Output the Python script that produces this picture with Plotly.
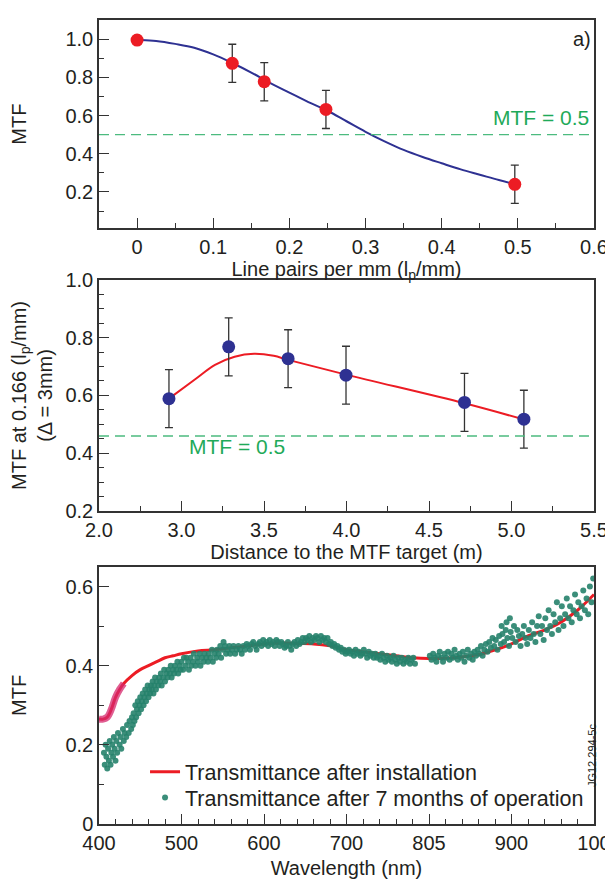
import plotly.graph_objects as go
from plotly.subplots import make_subplots

# ---- panel a) MTF against spatial frequency
lp_pts = [0.0, 0.125, 0.167, 0.248, 0.496]
lp_mtf = [0.995, 0.873, 0.777, 0.632, 0.24]
lp_err = [0.0, 0.1, 0.1, 0.1, 0.1]
lp_fit = [0.005, 0.025, 0.05, 0.075, 0.1, 0.125, 0.15, 0.175, 0.2, 0.225, 0.25, 0.275, 0.3, 0.325,
          0.35, 0.375, 0.4, 0.425, 0.45, 0.475, 0.495]
lp_fit_mtf = [0.995, 0.99, 0.975, 0.955, 0.92, 0.875, 0.825, 0.77, 0.72, 0.67, 0.625, 0.57, 0.515,
              0.465, 0.42, 0.383, 0.35, 0.318, 0.29, 0.262, 0.242]
lp_threshold = 0.5

# ---- MTF at 0.166 lp/mm against distance
dist_pts = [2.924, 3.286, 3.646, 3.997, 4.715, 5.075]
dist_mtf = [0.589, 0.768, 0.727, 0.670, 0.576, 0.518]
dist_err = [0.1, 0.1, 0.1, 0.1, 0.1, 0.1]
dist_fit = [2.924, 3.085, 3.203, 3.322, 3.44, 3.559, 3.646, 3.997, 4.715, 5.075]
dist_fit_mtf = [0.589, 0.657, 0.706, 0.734, 0.744, 0.737, 0.723, 0.672, 0.573, 0.517]
dist_threshold = 0.46
dist_ticks = [2.5, 3.0, 3.5, 4.0, 4.5, 5.0, 5.5]
dist_ticktext = ["2.0", "3.0", "3.5", "4.0", "4.5", "5.0", "5.5"]

# ---- transmittance after installation (line)
wl_install = [400, 405, 410, 415, 420, 425, 430, 440, 450, 460, 470, 480, 490, 500, 520, 540, 560, 580,
              600, 620, 640, 660, 680, 700, 720, 740, 760, 780, 800, 820, 840, 860, 880, 900, 920, 940,
              960, 980, 1000]
tr_install = [0.265, 0.265, 0.27, 0.29, 0.32, 0.34, 0.355, 0.375, 0.39, 0.40, 0.41, 0.42, 0.425, 0.43,
              0.437, 0.44, 0.445, 0.45, 0.455, 0.457, 0.456, 0.455, 0.45, 0.44, 0.435, 0.43, 0.425, 0.42,
              0.418, 0.419, 0.422, 0.428, 0.44, 0.455, 0.475, 0.49, 0.51, 0.54, 0.58]

# ---- transmittance after 7 months (dots)
wl_7m = [
    406, 407, 408, 409, 410, 411, 412, 413, 414, 415,
    416, 417, 418, 419, 420, 421, 422, 423, 425, 426,
    427, 429, 430, 431, 433, 434, 436, 437, 439, 440,
    441, 442, 443, 444, 445, 446, 447, 448, 449, 450,
    451, 452, 453, 454, 455, 456, 457, 458, 459, 460,
    461, 462, 463, 464, 465, 466, 467, 468, 469, 470,
    472, 473, 474, 475, 476, 478, 479, 480, 482, 483,
    484, 486, 487, 488, 490, 491, 492, 494, 495, 496,
    498, 499,
    500, 502, 503, 505, 506, 508, 509, 511, 512, 514,
    515, 517, 519, 520, 522, 523, 525, 527, 528, 530,
    532, 533, 535, 537, 538, 540, 542, 543, 545, 547,
    548, 550, 551, 553, 554, 556, 558, 559,
    561, 563, 565, 567, 569, 571, 573, 575, 577, 579,
    581, 583, 585, 587, 589, 591, 593, 595, 597, 599,
    601, 603, 605, 607, 609, 611, 613, 615, 617, 619,
    621, 623, 625, 627, 629, 631, 633, 635, 637, 639,
    641, 643, 645, 647, 649, 651, 653, 655, 657, 659,
    661, 663, 665, 667, 669, 671, 673, 675, 677, 679,
    681, 683, 685, 687, 689, 691, 693, 695, 697, 699,
    701, 703, 705, 707, 709, 711, 713, 715, 717, 719,
    721, 723, 725, 727, 729, 731, 733, 735, 737, 739,
    741, 743, 745, 747, 749, 751, 753, 755, 757, 759,
    761, 763, 765, 767, 769, 771, 773, 775, 777, 779,
    781, 783,
    801, 803, 805, 807, 809, 811, 813, 815, 817, 819,
    821, 823, 825, 827, 829, 831, 833, 835, 837, 839,
    841, 843, 845, 847, 849, 851, 853, 855, 857, 859,
    861, 863, 865, 867, 869, 871, 873, 875, 877, 879,
    881, 883, 885, 887, 889, 891, 893, 895, 897, 899,
    888, 894, 898,
    901, 903, 905, 907, 909, 911, 913, 915, 917, 919,
    921, 923, 925, 927, 929, 931, 933, 935, 937, 939,
    941, 943, 945, 947, 949, 951, 953, 955, 957, 959,
    961, 963, 965, 967, 969, 971, 973, 975, 977, 979,
    981, 983, 985, 987, 989, 991, 993, 995, 997, 999,
]
tr_7m = [
    0.18, 0.15, 0.20, 0.17, 0.14, 0.19, 0.16, 0.21, 0.15, 0.18,
    0.20, 0.17, 0.22, 0.19, 0.16, 0.21, 0.18, 0.23, 0.20, 0.22,
    0.19, 0.24, 0.21, 0.23, 0.22, 0.25, 0.23, 0.26, 0.24, 0.27,
    0.25, 0.28, 0.26, 0.30, 0.27, 0.29, 0.31, 0.28, 0.30, 0.32,
    0.29, 0.31, 0.33, 0.30, 0.32, 0.34, 0.31, 0.33, 0.35, 0.32,
    0.34, 0.33, 0.35, 0.34, 0.36, 0.33, 0.35, 0.37, 0.34, 0.36,
    0.35, 0.37, 0.36, 0.38, 0.35, 0.37, 0.39, 0.36, 0.38, 0.37,
    0.39, 0.38, 0.40, 0.37, 0.39, 0.38, 0.40, 0.39, 0.41, 0.38,
    0.40, 0.39,
    0.41, 0.39, 0.42, 0.40, 0.42, 0.41, 0.39, 0.42, 0.40, 0.41,
    0.43, 0.40, 0.42, 0.41, 0.43, 0.40, 0.42, 0.41, 0.43, 0.42,
    0.41, 0.43, 0.42, 0.44, 0.41, 0.43, 0.42, 0.44, 0.43, 0.45,
    0.42, 0.44, 0.46, 0.45, 0.43, 0.44, 0.45, 0.43,
    0.44, 0.45, 0.43, 0.44, 0.45, 0.44, 0.43, 0.45, 0.44, 0.455,
    0.45, 0.44, 0.455, 0.46, 0.45, 0.44, 0.455, 0.46, 0.45, 0.465,
    0.455, 0.46, 0.45, 0.465, 0.455, 0.46, 0.45, 0.465, 0.46, 0.45,
    0.46, 0.455, 0.445, 0.45, 0.46, 0.45, 0.44, 0.455, 0.46, 0.45,
    0.465, 0.455, 0.46, 0.47, 0.46, 0.47, 0.465, 0.475, 0.46, 0.47,
    0.465, 0.475, 0.47, 0.46, 0.475, 0.465, 0.47, 0.46, 0.47, 0.455,
    0.46, 0.45, 0.455, 0.445, 0.45, 0.44, 0.445, 0.435, 0.44, 0.43,
    0.435, 0.44, 0.43, 0.435, 0.425, 0.44, 0.43, 0.435, 0.425, 0.43,
    0.44, 0.43, 0.42, 0.435, 0.425, 0.43, 0.42, 0.43, 0.42, 0.425,
    0.415, 0.43, 0.42, 0.41, 0.425, 0.415, 0.42, 0.41, 0.425, 0.415,
    0.405, 0.42, 0.41, 0.42, 0.405, 0.415, 0.41, 0.42, 0.405, 0.415,
    0.42, 0.405,
    0.425, 0.415, 0.43, 0.42, 0.41, 0.425, 0.435, 0.42, 0.41, 0.43,
    0.42, 0.435, 0.415, 0.43, 0.42, 0.44, 0.425, 0.415, 0.43, 0.42,
    0.435, 0.41, 0.425, 0.44, 0.42, 0.43, 0.415, 0.435, 0.425, 0.44,
    0.43, 0.45, 0.425, 0.44, 0.455, 0.435, 0.46, 0.445, 0.47, 0.45,
    0.465, 0.44, 0.475, 0.455, 0.48, 0.46, 0.49, 0.47, 0.45, 0.485,
    0.50, 0.51, 0.52,
    0.47, 0.50, 0.46, 0.49, 0.475, 0.45, 0.48, 0.50, 0.47, 0.455,
    0.49, 0.47, 0.51, 0.48, 0.46, 0.50, 0.525, 0.48, 0.50, 0.465,
    0.52, 0.49, 0.54, 0.50, 0.48, 0.53, 0.51, 0.56, 0.49, 0.52,
    0.55, 0.50, 0.53, 0.57, 0.52, 0.55, 0.51, 0.54, 0.58, 0.53,
    0.56, 0.52, 0.55, 0.59, 0.54, 0.57, 0.53, 0.60, 0.56, 0.62,
]
wl_ticks = [400, 500, 600, 700, 800, 900, 1000]
wl_ticktext = ["400", "500", "600", "700", "805", "900", "100"]

RED = "#ec1c24"
NAVY = "#2e3192"
GREEN = "#1faa59"
DASH_GREEN = "#4cbb7f"
DOT_GREEN = "rgba(38,130,108,0.9)"
INK = "#231f20"
FONT = "Liberation Sans, Arial, sans-serif"
TICK_SIZE = 20
TITLE_SIZE = 20

fig = make_subplots(rows=3, cols=1)

# panel a)
fig.add_trace(go.Scatter(x=lp_fit, y=lp_fit_mtf, mode="lines", line=dict(color=NAVY, width=2, shape="spline"),
                         showlegend=False), row=1, col=1)
fig.add_trace(go.Scatter(x=lp_pts, y=lp_mtf, mode="markers", marker=dict(color=RED, size=13),
                         error_y=dict(type="data", array=lp_err, color="#333333", thickness=1.3, width=4),
                         showlegend=False), row=1, col=1)

# distance panel
fig.add_trace(go.Scatter(x=dist_fit, y=dist_fit_mtf, mode="lines", line=dict(color=RED, width=2, shape="spline"),
                         showlegend=False), row=2, col=1)
fig.add_trace(go.Scatter(x=dist_pts, y=dist_mtf, mode="markers", marker=dict(color=NAVY, size=13),
                         error_y=dict(type="data", array=dist_err, color="#333333", thickness=1.3, width=4),
                         showlegend=False), row=2, col=1)

# transmittance panel
fig.add_trace(go.Scatter(x=wl_install, y=tr_install, mode="lines", name="Transmittance after installation",
                         line=dict(color=RED, width=3, shape="spline"), legend="legend"), row=3, col=1)
fig.add_trace(go.Scatter(x=wl_install[:7], y=tr_install[:7], mode="lines", showlegend=False,
                         line=dict(color="rgba(214,40,110,0.75)", width=7, shape="spline")), row=3, col=1)
fig.add_trace(go.Scatter(x=wl_7m, y=tr_7m, mode="markers", name="Transmittance after 7 months of operation",
                         marker=dict(color=DOT_GREEN, size=6), legend="legend2"), row=3, col=1)

# threshold lines
fig.add_hline(y=lp_threshold, line=dict(color=DASH_GREEN, width=1.3, dash="10px,6px"), row=1, col=1)
fig.add_hline(y=dist_threshold, line=dict(color=DASH_GREEN, width=1.3, dash="10px,6px"), row=2, col=1)

axis_style = dict(showline=True, linecolor="#333333", linewidth=1.5, mirror=True, ticks="inside",
                  ticklen=10, tickwidth=1.3, tickcolor="#333333", showgrid=False, zeroline=False,
                  tickfont=dict(size=TICK_SIZE, color=INK))

fig.update_xaxes(axis_style)
fig.update_yaxes(axis_style)

fig.update_xaxes(range=[-0.05, 0.6], tickvals=[0, 0.1, 0.2, 0.3, 0.4, 0.5, 0.6],
                 ticktext=["0", "0.1", "0.2", "0.3", "0.4", "0.5", "0.6"],
                 minor=dict(tickmode="linear", tick0=0, dtick=0.05, ticks="inside", ticklen=5, tickcolor="#333333"),
                 title=dict(text="Line pairs per mm (l<sub>p</sub>/mm)", font=dict(size=TITLE_SIZE, color=INK), standoff=0),
                 row=1, col=1)
fig.update_yaxes(range=[0.01, 1.1], tickvals=[0.2, 0.4, 0.6, 0.8, 1.0], tickformat=".1f",
                 minor=dict(tickmode="linear", tick0=0, dtick=0.1, ticks="inside", ticklen=5, tickcolor="#333333"),
                 title=dict(text="MTF", font=dict(size=TITLE_SIZE, color=INK), standoff=36),
                 row=1, col=1)

fig.update_xaxes(range=[2.5, 5.5], tickvals=dist_ticks, ticktext=dist_ticktext,
                 minor=dict(tickmode="linear", tick0=2.5, dtick=0.25, ticks="inside", ticklen=5, tickcolor="#333333"),
                 title=dict(text="Distance to the MTF target (m)", font=dict(size=TITLE_SIZE, color=INK), standoff=0),
                 row=2, col=1)
fig.update_yaxes(range=[0.2, 1.0], tickvals=[0.2, 0.4, 0.6, 0.8, 1.0], tickformat=".1f",
                 minor=dict(tickmode="linear", tick0=0.2, dtick=0.05, ticks="inside", ticklen=5, tickcolor="#333333"),
                 title=dict(text="MTF at 0.166 (l<sub>p</sub>/mm)<br>(\u0394 = 3mm)", font=dict(size=TITLE_SIZE, color=INK),
                            standoff=10),
                 row=2, col=1)

fig.update_xaxes(range=[400, 1000], tickvals=wl_ticks, ticktext=wl_ticktext,
                 minor=dict(tickmode="linear", tick0=400, dtick=20, ticks="inside", ticklen=5, tickcolor="#333333"),
                 title=dict(text="Wavelength (nm)", font=dict(size=TITLE_SIZE, color=INK), standoff=8),
                 row=3, col=1)
fig.update_yaxes(range=[0, 0.65], tickvals=[0, 0.2, 0.4, 0.6], ticktext=["0", "0.2", "0.4", "0.6"],
                 minor=dict(tickmode="linear", tick0=0, dtick=0.1, ticks="inside", ticklen=5, tickcolor="#333333"),
                 title=dict(text="MTF", font=dict(size=TITLE_SIZE, color=INK), standoff=36),
                 row=3, col=1)

legend_style = dict(x=0.093, xanchor="left", yanchor="middle", bgcolor="rgba(0,0,0,0)",
                    font=dict(size=21.5, color=INK), itemwidth=30, tracegroupgap=0)

# the page body adds 8px of margin, so the figure is drawn 8px smaller
fig.update_layout(
    width=605, height=873,
    margin=dict(l=91, r=19, t=1, b=57),
    paper_bgcolor="white", plot_bgcolor="white",
    font=dict(family=FONT, color=INK),
    yaxis=dict(domain=[0.741, 1.0]),
    yaxis2=dict(domain=[0.389, 0.677]),
    yaxis3=dict(domain=[0.0, 0.320]),
    legend=dict(legend_style, y=0.065),
    legend2=dict(legend_style, y=0.033),
)

fig.add_annotation(text="a)", xref="x domain", yref="y domain", x=0.997, y=0.97, xanchor="right", yanchor="top",
                   showarrow=False, font=dict(size=TICK_SIZE, color=INK))
fig.add_annotation(text="MTF = 0.5", xref="x", yref="y", x=0.53, y=lp_threshold, yanchor="bottom", yshift=4,
                   showarrow=False, font=dict(size=21, color=GREEN))
fig.add_annotation(text="MTF = 0.5", xref="x2", yref="y2", x=3.336, y=dist_threshold, yanchor="top", yshift=3,
                   showarrow=False, font=dict(size=21, color=GREEN))
fig.add_annotation(text="JG12.294-5c", xref="paper", yref="paper", x=1.012, y=0.044, textangle=-90,
                   showarrow=False, font=dict(size=11, color=INK))

fig.write_html("out.html")
